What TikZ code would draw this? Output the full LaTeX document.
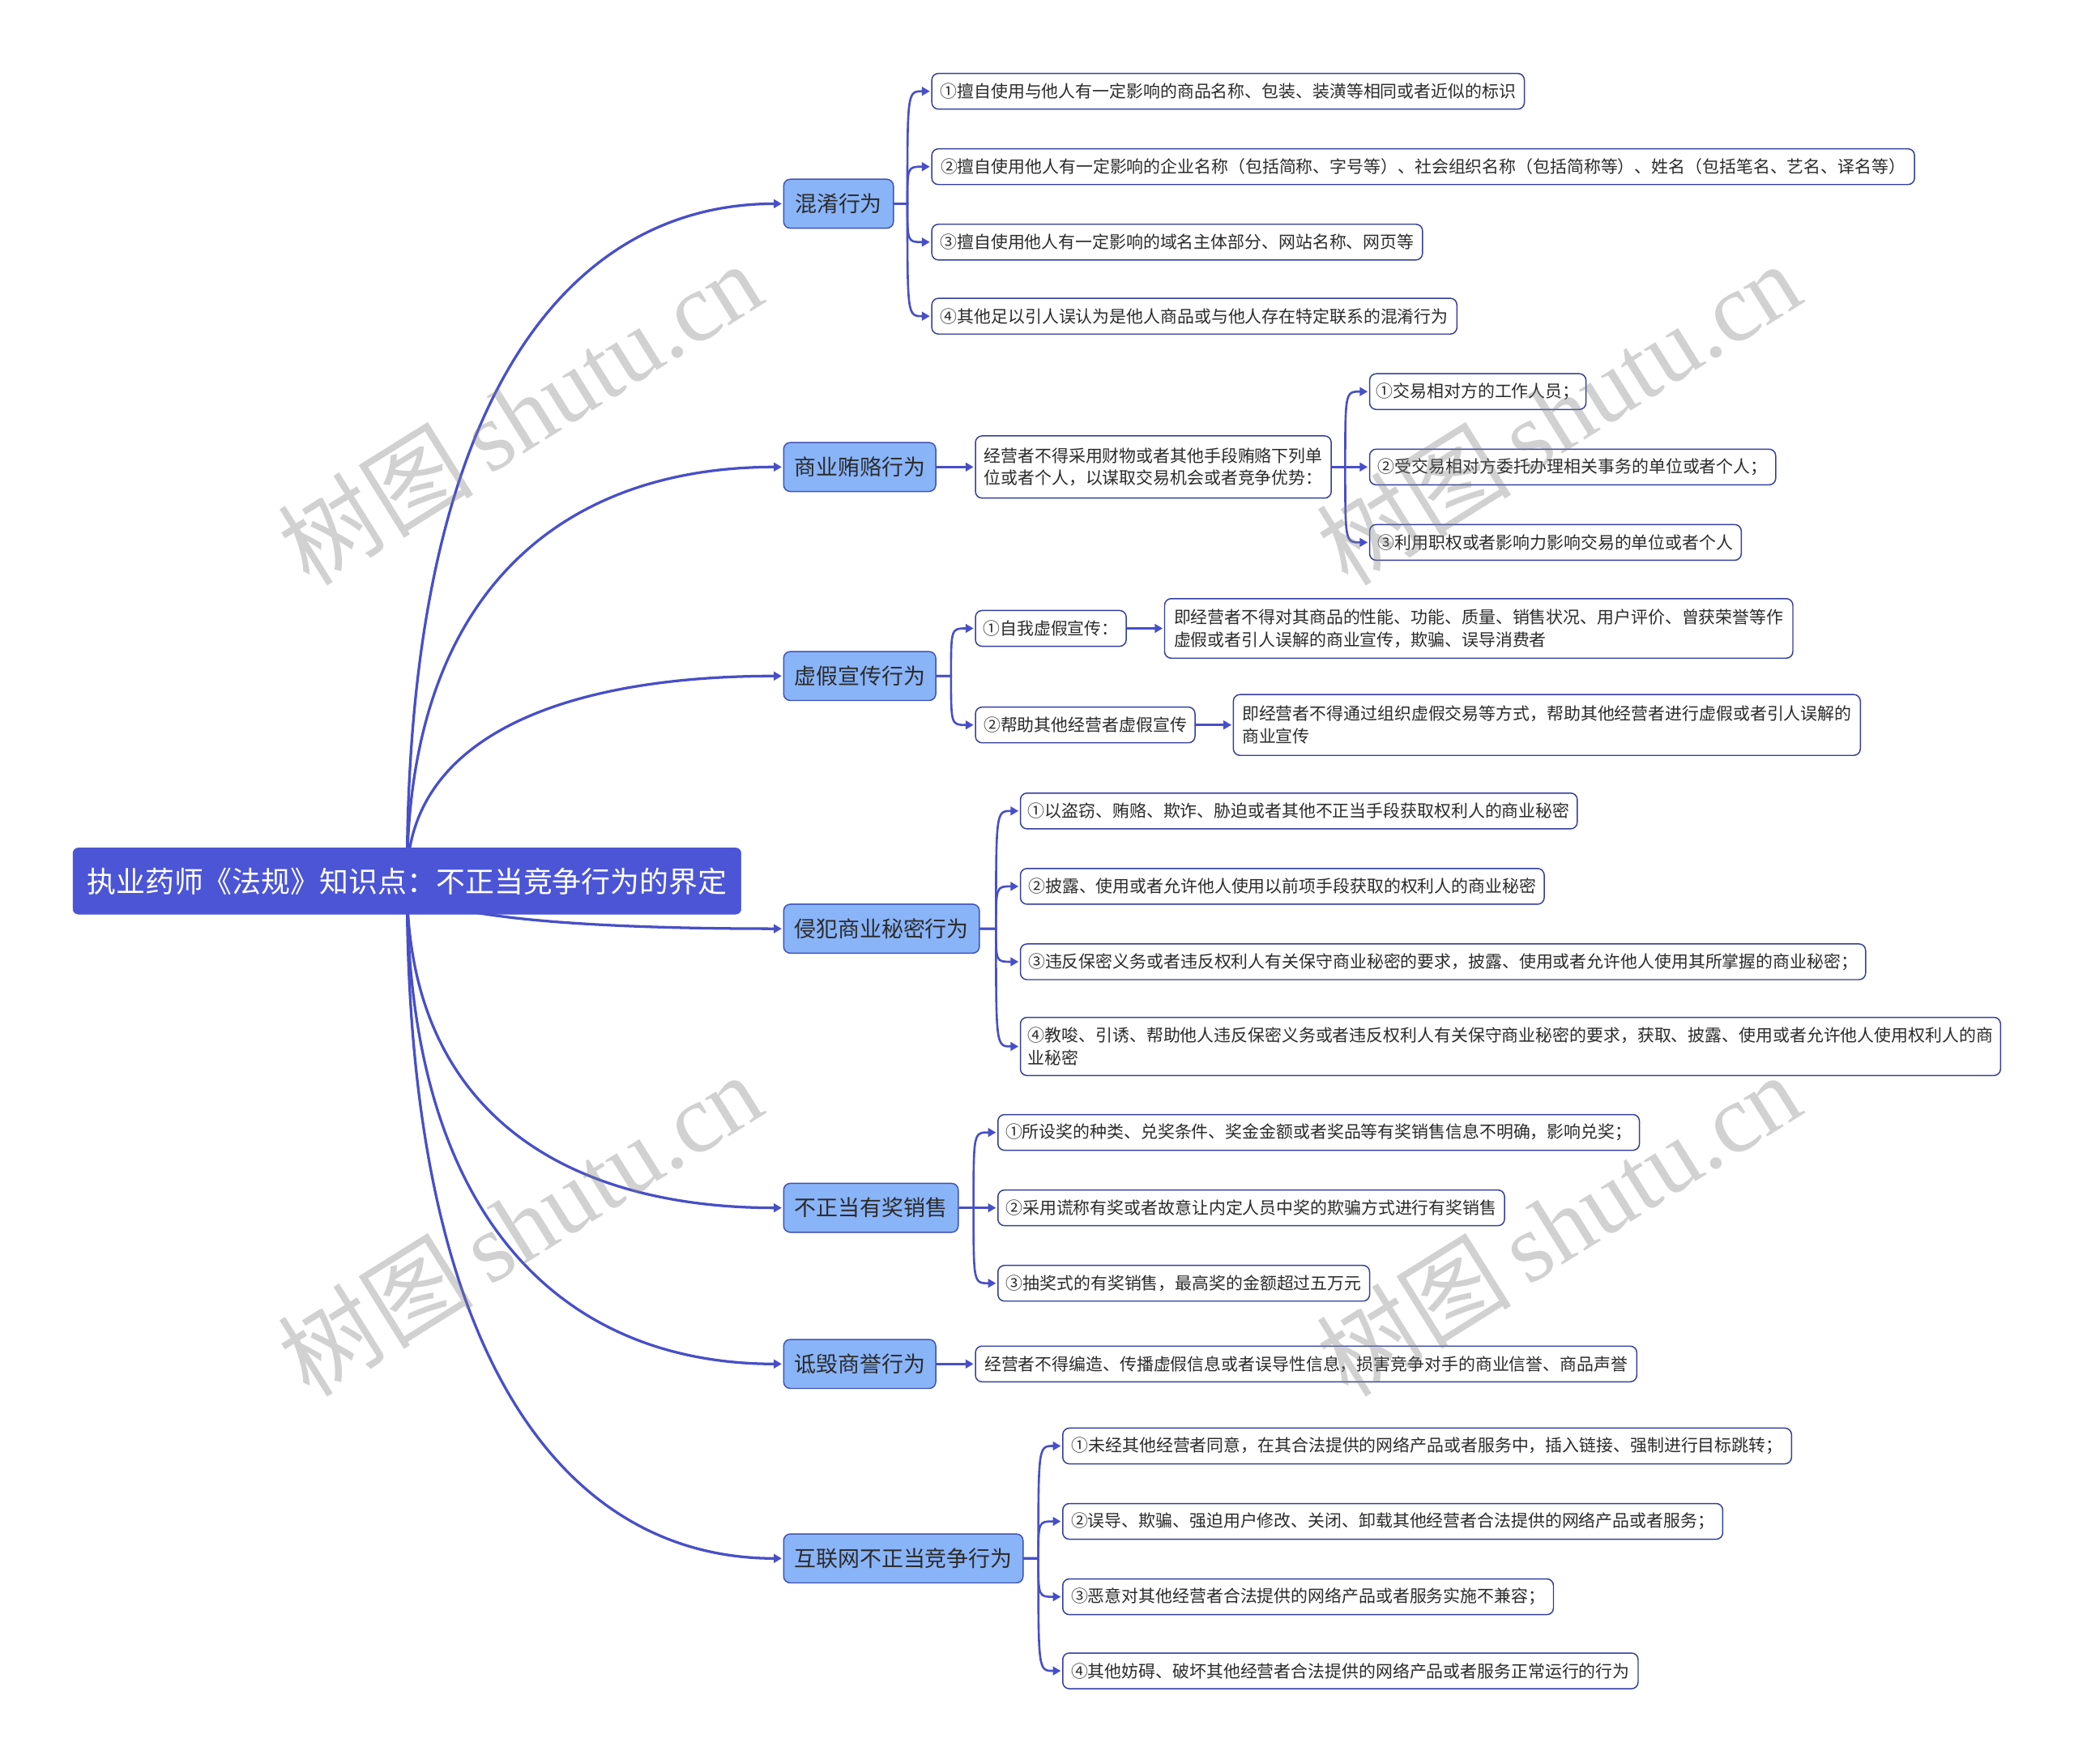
\documentclass[tikz,border=0pt]{standalone}
\usepackage{fontspec}
\newfontfamily\cjk{Noto Sans CJK SC}
\newfontfamily\wmlat{Liberation Serif}
\usetikzlibrary{arrows.meta}
\definecolor{rootc}{HTML}{4B55D5}
\definecolor{lonefill}{HTML}{8AB4F8}
\definecolor{loneborder}{HTML}{3F51B5}
\definecolor{leafborder}{HTML}{343E9E}
\definecolor{linec}{HTML}{474FC8}
\definecolor{txt}{HTML}{2B2B2B}
\pgfdeclarelayer{bg}
\pgfdeclarelayer{fg}
\pgfsetlayers{bg,main,fg}
\begin{document}
\begin{tikzpicture}[x=1pt,y=-1pt,
  rootnode/.style={fill=rootc, draw=rootc, rounded corners=4pt, text=white,
    font=\cjk\fontsize{22}{26}\selectfont, minimum height=50pt, inner xsep=10pt, anchor=west},
  topic/.style={fill=lonefill, draw=loneborder, line width=0.9pt, rounded corners=5pt, text=txt,
    font=\cjk\fontsize{16.5}{20}\selectfont, minimum height=37pt, inner xsep=7pt, anchor=west},
  leaf/.style={fill=white, draw=leafborder, line width=0.9pt, rounded corners=5pt, text=txt,
    font=\cjk\fontsize{12.8}{17}\selectfont, minimum height=27pt, inner xsep=5pt, inner ysep=3pt,
    anchor=west, align=left},
  wd/.style={minimum width=#1},
  conn/.style={draw=linec, line width=1.6pt, -{Triangle[length=6pt,width=6.5pt]}, shorten >=1pt},
  mainconn/.style={conn, line width=2pt},
  wm/.style={text=gray, opacity=0.36, rotate=32, inner sep=0pt}
]
\useasboundingbox (0,0) rectangle (1568,1333);

% root
\node[rootnode, wd=505pt] (root) at (55,666) {执业药师《法规》知识点：不正当竞争行为的界定};

% level 1
\node[topic, wd=83pt]  (t1) at (592,154)  {混淆行为};
\node[topic, wd=115pt] (t2) at (592,353)  {商业贿赂行为};
\node[topic, wd=115pt] (t3) at (592,511)  {虚假宣传行为};
\node[topic, wd=148pt] (t4) at (592,702)  {侵犯商业秘密行为};
\node[topic, wd=132pt] (t5) at (592,913)  {不正当有奖销售};
\node[topic, wd=115pt] (t6) at (592,1031) {诋毁商誉行为};
\node[topic, wd=181pt] (t7) at (592,1178) {互联网不正当竞争行为};

% 混淆行为
\node[leaf, wd=448pt] (a1) at (704,69)  {①擅自使用与他人有一定影响的商品名称、包装、装潢等相同或者近似的标识};
\node[leaf, wd=743pt] (a2) at (704,126) {②擅自使用他人有一定影响的企业名称（包括简称、字号等）、社会组织名称（包括简称等）、姓名（包括笔名、艺名、译名等）};
\node[leaf, wd=371pt] (a3) at (704,183) {③擅自使用他人有一定影响的域名主体部分、网站名称、网页等};
\node[leaf, wd=397pt] (a4) at (704,239) {④其他足以引人误认为是他人商品或与他人存在特定联系的混淆行为};

% 商业贿赂行为
\node[leaf, wd=269pt, minimum height=47pt] (bm) at (737,353) {经营者不得采用财物或者其他手段贿赂下列单\\位或者个人，以谋取交易机会或者竞争优势：};
\node[leaf, wd=155pt] (b1) at (1035,296) {①交易相对方的工作人员；};
\node[leaf, wd=307pt] (b2) at (1035,353) {②受交易相对方委托办理相关事务的单位或者个人；};
\node[leaf, wd=281pt] (b3) at (1035,410) {③利用职权或者影响力影响交易的单位或者个人};

% 虚假宣传行为
\node[leaf, wd=114pt] (c1) at (737,475) {①自我虚假宣传：};
\node[leaf, wd=475pt, minimum height=45pt] (c1d) at (880,475) {即经营者不得对其商品的性能、功能、质量、销售状况、用户评价、曾获荣誉等作\\虚假或者引人误解的商业宣传，欺骗、误导消费者};
\node[leaf, wd=166pt] (c2) at (737,548) {②帮助其他经营者虚假宣传};
\node[leaf, wd=474pt, minimum height=46pt] (c2d) at (932,548) {即经营者不得通过组织虚假交易等方式，帮助其他经营者进行虚假或者引人误解的\\商业宣传};

% 侵犯商业秘密行为
\node[leaf, wd=421pt] (d1) at (771,613) {①以盗窃、贿赂、欺诈、胁迫或者其他不正当手段获取权利人的商业秘密};
\node[leaf, wd=396pt] (d2) at (771,670) {②披露、使用或者允许他人使用以前项手段获取的权利人的商业秘密};
\node[leaf, wd=639pt] (d3) at (771,727) {③违反保密义务或者违反权利人有关保守商业秘密的要求，披露、使用或者允许他人使用其所掌握的商业秘密；};
\node[leaf, wd=741pt, minimum height=44pt] (d4) at (771,791) {④教唆、引诱、帮助他人违反保密义务或者违反权利人有关保守商业秘密的要求，获取、披露、使用或者允许他人使用权利人的商\\业秘密};

% 不正当有奖销售
\node[leaf, wd=485pt] (e1) at (754,856) {①所设奖的种类、兑奖条件、奖金金额或者奖品等有奖销售信息不明确，影响兑奖；};
\node[leaf, wd=383pt] (e2) at (754,913) {②采用谎称有奖或者故意让内定人员中奖的欺骗方式进行有奖销售};
\node[leaf, wd=281pt] (e3) at (754,970) {③抽奖式的有奖销售，最高奖的金额超过五万元};

% 诋毁商誉行为
\node[leaf, wd=500pt] (f1) at (737,1031) {经营者不得编造、传播虚假信息或者误导性信息，损害竞争对手的商业信誉、商品声誉};

% 互联网不正当竞争行为
\node[leaf, wd=551pt] (g1) at (803,1093) {①未经其他经营者同意，在其合法提供的网络产品或者服务中，插入链接、强制进行目标跳转；};
\node[leaf, wd=499pt] (g2) at (803,1150) {②误导、欺骗、强迫用户修改、关闭、卸载其他经营者合法提供的网络产品或者服务；};
\node[leaf, wd=371pt] (g3) at (803,1207) {③恶意对其他经营者合法提供的网络产品或者服务实施不兼容；};
\node[leaf, wd=435pt] (g4) at (803,1263) {④其他妨碍、破坏其他经营者合法提供的网络产品或者服务正常运行的行为};

\begin{pgfonlayer}{bg}
% root -> topics
\draw[mainconn] (root.center) .. controls (307,300) and (430,154) .. (t1.west);
\draw[mainconn] (root.center) .. controls (307,442) and (430,353) .. (t2.west);
\draw[mainconn] (root.center) .. controls (307,555) and (430,511) .. (t3.west);
\draw[mainconn] (root.center) .. controls (307,692) and (430,702) .. (t4.west);
\draw[mainconn] (root.center) .. controls (307,843) and (430,913) .. (t5.west);
\draw[mainconn] (root.center) .. controls (307,927) and (430,1031) .. (t6.west);
\draw[mainconn] (root.center) .. controls (307,1032) and (430,1178) .. (t7.west);

% 混淆行为
\draw[conn] (t1.east) -- (686,154) .. controls (686,69) and (686,69) .. (a1.west);
\draw[conn] (t1.east) -- (686,154) .. controls (686,126) and (686,126) .. (a2.west);
\draw[conn] (t1.east) -- (686,154) .. controls (686,183) and (686,183) .. (a3.west);
\draw[conn] (t1.east) -- (686,154) .. controls (686,239) and (686,239) .. (a4.west);

% 商业贿赂
\draw[conn] (t2.east) -- (bm.west);
\draw[conn] (bm.east) -- (1017,353) .. controls (1017,296) and (1017,296) .. (b1.west);
\draw[conn] (bm.east) -- (b2.west);
\draw[conn] (bm.east) -- (1017,353) .. controls (1017,410) and (1017,410) .. (b3.west);

% 虚假宣传
\draw[conn] (t3.east) -- (719,511) .. controls (719,475) and (719,475) .. (c1.west);
\draw[conn] (t3.east) -- (719,511) .. controls (719,548) and (719,548) .. (c2.west);
\draw[conn] (c1.east) -- (c1d.west);
\draw[conn] (c2.east) -- (c2d.west);

% 侵犯商业秘密
\draw[conn] (t4.east) -- (753,702) .. controls (753,613) and (753,613) .. (d1.west);
\draw[conn] (t4.east) -- (753,702) .. controls (753,670) and (753,670) .. (d2.west);
\draw[conn] (t4.east) -- (753,702) .. controls (753,727) and (753,727) .. (d3.west);
\draw[conn] (t4.east) -- (753,702) .. controls (753,791) and (753,791) .. (d4.west);

% 不正当有奖销售
\draw[conn] (t5.east) -- (736,913) .. controls (736,856) and (736,856) .. (e1.west);
\draw[conn] (t5.east) -- (e2.west);
\draw[conn] (t5.east) -- (736,913) .. controls (736,970) and (736,970) .. (e3.west);

% 诋毁商誉
\draw[conn] (t6.east) -- (f1.west);

% 互联网
\draw[conn] (t7.east) -- (785,1178) .. controls (785,1093) and (785,1093) .. (g1.west);
\draw[conn] (t7.east) -- (785,1178) .. controls (785,1150) and (785,1150) .. (g2.west);
\draw[conn] (t7.east) -- (785,1178) .. controls (785,1207) and (785,1207) .. (g3.west);
\draw[conn] (t7.east) -- (785,1178) .. controls (785,1263) and (785,1263) .. (g4.west);
\end{pgfonlayer}

\begin{pgfonlayer}{fg}
\node[wm] (wm1) at (393,312)  {\cjk\fontsize{74}{78}\selectfont 树图\,\wmlat shutu.cn};
\node[wm] (wm2) at (1178,312) {\cjk\fontsize{74}{78}\selectfont 树图\,\wmlat shutu.cn};
\node[wm] (wm3) at (393,925)  {\cjk\fontsize{74}{78}\selectfont 树图\,\wmlat shutu.cn};
\node[wm] (wm4) at (1178,925) {\cjk\fontsize{74}{78}\selectfont 树图\,\wmlat shutu.cn};
\end{pgfonlayer}
\end{tikzpicture}
\end{document}
